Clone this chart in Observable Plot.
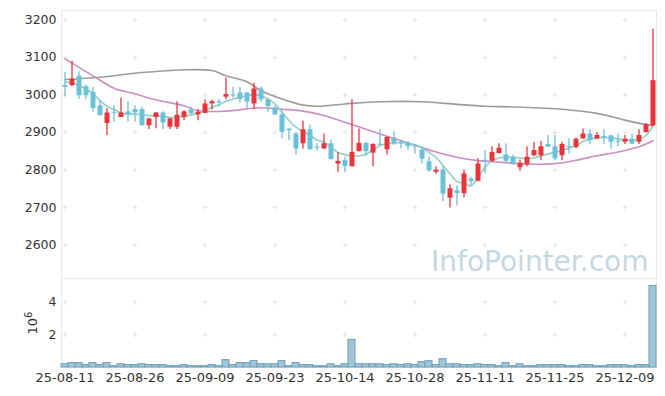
<!DOCTYPE html>
<html><head><meta charset="utf-8">
<script src="https://cdn.jsdelivr.net/npm/d3@7"></script>
<script src="https://cdn.jsdelivr.net/npm/@observablehq/plot@0.6"></script>
<style>
body{margin:0;background:#fff}
#chart{width:665px}
#chart svg{display:block}
</style>
</head><body><div id="chart"></div>
<script>
const dates = ["25-08-11","25-08-12","25-08-13","25-08-14","25-08-18","25-08-19","25-08-20","25-08-21","25-08-22","25-08-25",
"25-08-26","25-08-27","25-08-28","25-08-29","25-09-01","25-09-02","25-09-03","25-09-04","25-09-05","25-09-08",
"25-09-09","25-09-10","25-09-11","25-09-12","25-09-15","25-09-16","25-09-17","25-09-18","25-09-19","25-09-22",
"25-09-23","25-09-24","25-09-25","25-09-26","25-09-29","25-09-30","25-10-01","25-10-02","25-10-10","25-10-13",
"25-10-14","25-10-15","25-10-16","25-10-17","25-10-20","25-10-21","25-10-22","25-10-23","25-10-24","25-10-27",
"25-10-28","25-10-29","25-10-30","25-10-31","25-11-03","25-11-04","25-11-05","25-11-06","25-11-07","25-11-10",
"25-11-11","25-11-12","25-11-13","25-11-14","25-11-17","25-11-18","25-11-19","25-11-20","25-11-21","25-11-24",
"25-11-25","25-11-26","25-11-27","25-11-28","25-12-01","25-12-02","25-12-03","25-12-04","25-12-05","25-12-08",
"25-12-09","25-12-10","25-12-11","25-12-12","25-12-15"];
const open  = [3025,3025,3050,3022,3007,2971,2924,2953,2940,2955, 2961,2961,2918,2940,2952,2914,2914,2940,2960,2947,
 2951,2976,2982,2994,3000,3005,3005,2976,3016,2987, 2965,2947,2909,2896,2870,2907,2861,2856,2870,2816,
 2825,2809,2849,2871,2845,2869,2854,2885,2872,2871, 2864,2853,2822,2794,2800,2725,2745,2737,2776,2770,
 2826,2823,2844,2840,2834,2806,2814,2838,2838,2868, 2862,2838,2863,2860,2883,2896,2883,2889,2891,2877,
 2874,2882,2874,2900,2918];
const high  = [3060,3090,3062,3027,3020,2985,2964,2971,2992,2982, 2971,2968,2938,2953,2955,2938,2982,2958,2968,2961,
 2987,2986,2987,3045,3020,3020,3006,3031,3022,2990, 2970,2958,2910,2900,2930,2920,2870,2896,2880,2847,
 2834,2987,2909,2874,2870,2907,2888,2902,2880,2876, 2868,2862,2834,2809,2809,2761,2758,2800,2781,2830,
 2852,2862,2870,2870,2840,2827,2862,2874,2876,2892, 2892,2874,2883,2885,2909,2907,2900,2907,2893,2896,
 2892,2896,2907,2924,3176];
const low   = [2995,3022,2988,2988,2954,2944,2892,2928,2940,2927, 2928,2917,2908,2910,2908,2908,2908,2932,2948,2931,
 2950,2960,2968,2987,2992,2978,2964,2961,2980,2954, 2945,2883,2878,2840,2856,2852,2850,2856,2826,2794,
 2794,2808,2848,2836,2809,2865,2840,2866,2856,2852, 2843,2816,2794,2789,2716,2699,2705,2726,2758,2768,
 2790,2821,2843,2821,2813,2797,2809,2836,2825,2860, 2825,2825,2843,2857,2882,2868,2881,2868,2856,2862,
 2868,2868,2868,2898,2915];
const close = [3020,3042,2998,2998,2964,2945,2952,2951,2952,2947, 2952,2918,2936,2952,2925,2936,2946,2955,2950,2954,
 2976,2982,2979,3001,2997,2988,2981,3016,2987,2969, 2947,2900,2905,2856,2907,2854,2858,2870,2828,2823,
 2809,2847,2871,2849,2868,2866,2887,2870,2869,2862, 2861,2829,2798,2800,2736,2750,2737,2790,2769,2816,
 2823,2847,2858,2823,2816,2818,2834,2852,2862,2861, 2830,2868,2860,2882,2896,2878,2892,2886,2874,2874,
 2882,2869,2892,2921,3038];
const volume = [0.2,0.27,0.27,0.15,0.27,0.15,0.27,0.08,0.2,0.15, 0.15,0.2,0.15,0.15,0.15,0.08,0.08,0.15,0.08,0.08,
 0.08,0.15,0.08,0.45,0.15,0.27,0.27,0.39,0.2,0.2, 0.2,0.39,0.08,0.27,0.15,0.15,0.08,0.08,0.2,0.08,
 0.2,1.69,0.2,0.2,0.2,0.2,0.15,0.2,0.15,0.2, 0.15,0.33,0.39,0.15,0.51,0.2,0.2,0.15,0.15,0.2,
 0.15,0.15,0.08,0.27,0.08,0.2,0.08,0.08,0.15,0.15, 0.15,0.15,0.08,0.08,0.15,0.15,0.08,0.08,0.15,0.15,
 0.15,0.08,0.15,0.15,5.0];
const ma5 = [3034,3032,3025,3016,3003,2985,2970,2961,2952,2949, 2949,2947,2945,2945,2943,2940,2940,2943,2947,2951,
 2958,2967,2974,2983,2989,2994,2998,3001,2998,2989, 2976,2954,2932,2914,2903,2892,2880,2874,2860,2847,
 2841,2838,2838,2843,2853,2865,2870,2871,2874,2871, 2868,2859,2847,2834,2812,2790,2769,2765,2758,2781,
 2807,2825,2832,2834,2834,2832,2830,2832,2838,2843, 2847,2852,2858,2865,2876,2883,2885,2887,2885,2883,
 2880,2880,2883,2892,2918];
const ma20Idx = [0,4,7,10,13,17,19,23,28,31,34,37,41,45,48,51,53,56,59,62,66,70,73,76,79,82,84];
const ma20Val = [3096,3051,3018,3003,2987,2971,2958,2957,2966,2962,2957,2945,2921,2896,2878,2860,2848,2834,2825,2821,2816,2817,2826,2838,2848,2862,2878];
const ma60Idx = [0,5,10,15,17,21,23,26,28,31,34,36,40,45,51,56,60,64,71,76,80,83,84];
const ma60Val = [3041,3047,3058,3065,3067,3065,3051,3035,3011,2989,2973,2970,2976,2982,2982,2975,2970,2968,2962,2951,2933,2921,2918];
const priceTicks = [2600,2700,2800,2900,3000,3100,3200];
const volTicks = [2,4];
const tickDates = dates.filter((d, i) => i % 10 === 0);

const UP = "#e8353c", DOWN = "#6cc1da";
const candles = dates.map((d, i) => ({date: d, o: open[i], h: high[i], l: low[i], c: close[i], v: volume[i], ma5: ma5[i],
  col: close[i] >= open[i] ? UP : DOWN}));
const ma20 = ma20Idx.map((k, j) => ({date: dates[k], v: ma20Val[j]}));
const ma60 = ma60Idx.map((k, j) => ({date: dates[k], v: ma60Val[j]}));
const cross = {draw(ctx, size) {const r = Math.sqrt(size / Math.PI); ctx.moveTo(-r, 0); ctx.lineTo(r, 0); ctx.moveTo(0, -r); ctx.lineTo(0, r);}};
const priceCross = tickDates.flatMap(d => priceTicks.map(y => ({date: d, y})));
const volCross = tickDates.flatMap(d => volTicks.map(y => ({date: d, y})));

const font = {fontFamily: "DejaVu Sans", fontSize: "12.5px", color: "#333", background: "#fff"};

const price = Plot.plot({
  width: 665, height: 278, marginLeft: 61, marginRight: 9, marginTop: 10, marginBottom: 0,
  style: font,
  x: {type: "band", domain: dates, padding: 0, axis: null},
  y: {domain: [2511, 3225], ticks: priceTicks, tickFormat: d => String(d), tickSize: 0, tickPadding: 5, label: null},
  marks: [
    Plot.frame({stroke: "#e8e8e8"}),
    Plot.dot(priceCross, {x: "date", y: "y", symbol: cross, r: 2.5, stroke: "#e3e3e3", strokeWidth: 1, fill: "none"}),
    Plot.text(["InfoPointer.com"], {frameAnchor: "bottom-right", dx: -8, dy: -8, fontSize: 28, fill: "#c4d8e3", textAnchor: "end", lineAnchor: "bottom", fontFamily: "DejaVu Sans"}),
    Plot.line(ma60, {x: "date", y: "v", stroke: "#9c9c9c", strokeWidth: 1.6, curve: "catmull-rom"}),
    Plot.line(ma20, {x: "date", y: "v", stroke: "#cc8fc5", strokeWidth: 1.6, curve: "catmull-rom"}),
    Plot.line(candles, {x: "date", y: "ma5", stroke: "#92d0c2", strokeWidth: 1.6, curve: "catmull-rom"}),
    Plot.ruleX(candles, {x: "date", y1: "l", y2: "h", stroke: "col", strokeWidth: 1.3}),
    Plot.ruleX(candles, {x: "date", y1: "o", y2: "c", stroke: "col", strokeWidth: 5})
  ]
});

const vol = Plot.plot({
  width: 665, height: 118, marginLeft: 61, marginRight: 9, marginTop: 0, marginBottom: 29,
  style: font,
  x: {type: "band", domain: dates, padding: 0, ticks: tickDates, tickSize: 0, tickPadding: 5, label: null},
  y: {domain: [0, 5.45], ticks: volTicks, tickFormat: d => String(d), tickSize: 0, tickPadding: 5, label: null},
  marks: [
    Plot.frame({stroke: "#e8e8e8"}),
    Plot.dot(volCross, {x: "date", y: "y", symbol: cross, r: 2.5, stroke: "#e3e3e3", strokeWidth: 1, fill: "none"}),
    Plot.barY(candles, {x: "date", y: "v", fill: "#9fc5d6", stroke: "#6e9fb9", strokeWidth: 1}),
    Plot.text(["10"], {frameAnchor: "left", dx: -29, rotate: -90, fontSize: 13, fill: "#333", textAnchor: "middle", lineAnchor: "middle"})
  ]
});
vol.querySelectorAll("[aria-label='x-axis tick label']").forEach(g => g.setAttribute("font-size", "13"));
vol.querySelectorAll("text").forEach(t => {
  if (t.textContent !== "10" || !(t.getAttribute("transform") || "").includes("rotate")) return;
  const s = document.createElementNS("http://www.w3.org/2000/svg", "tspan");
  s.setAttribute("dy", "-0.45em");
  s.setAttribute("font-size", "10");
  s.textContent = "6";
  t.appendChild(s);
});
const el = document.getElementById("chart");
el.append(price, vol);
</script>
</body></html>
